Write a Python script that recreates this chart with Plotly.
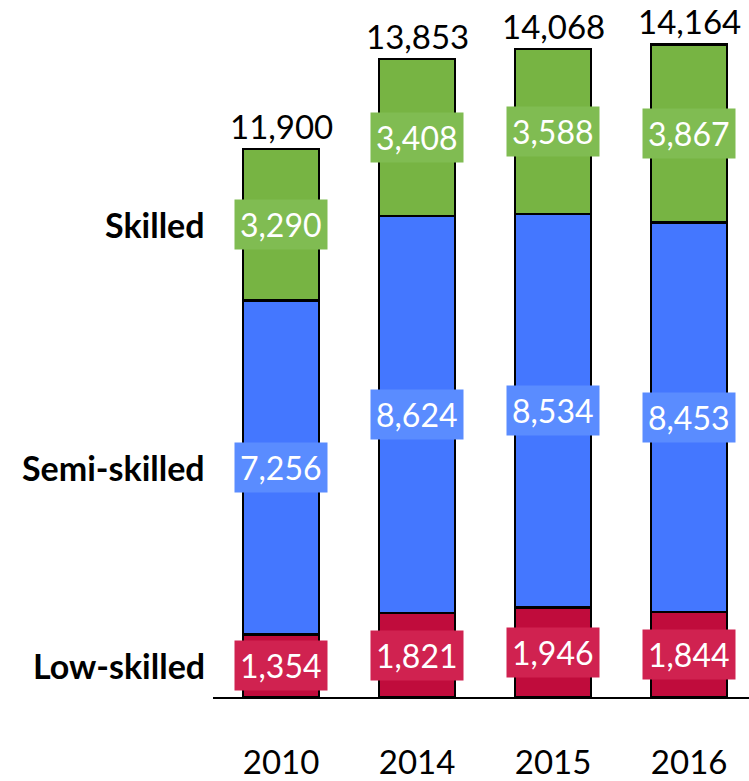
import plotly.graph_objects as go

years = ["2010", "2014", "2015", "2016"]
low_skilled = [1354, 1821, 1946, 1844]
semi_skilled = [7256, 8624, 8534, 8453]
skilled = [3290, 3408, 3588, 3867]
totals = [11900, 13853, 14068, 14164]
row_names = ["Low-skilled", "Semi-skilled", "Skilled"]

bar_colors = ["#C00C3C", "#4477FF", "#77B443"]
box_colors = ["#D02250", "#5A8CFF", "#80BC52"]

FONT = "Lato"
series = [low_skilled, semi_skilled, skilled]

fig = go.Figure()
for name, vals, col in zip(row_names, series, bar_colors):
    fig.add_trace(go.Bar(
        x=years, y=vals, name=name, marker=dict(color=col, line=dict(color="black", width=2.5)),
        width=0.56, hoverinfo="skip",
    ))

annotations = []
for i, yr in enumerate(years):
    base = 0
    for vals, bc in zip(series, box_colors):
        v = vals[i]
        annotations.append(dict(
            x=i, y=base + v / 2, xref="x", yref="y", text=f"{v:,}",
            showarrow=False, font=dict(family=FONT, size=32, color="white"),
            bgcolor=bc, borderpad=5, xanchor="center", yanchor="middle",
        ))
        base += v
    annotations.append(dict(
        x=i, y=totals[i], xref="x", yref="y", text=f"{totals[i]:,}",
        showarrow=False, font=dict(family=FONT, size=33, color="black"),
        xanchor="center", yanchor="bottom", yshift=1,
    ))

base = 0
for name, vals in zip(row_names, series):
    annotations.append(dict(
        x=0, y=base + vals[0] / 2, xref="paper", yref="y", text=f"<b>{name}</b>",
        showarrow=False, font=dict(family=FONT, size=34, color="black"),
        xanchor="right", yanchor="middle", xshift=-6,
    ))
    base += vals[0]

fig.update_layout(
    barmode="stack", width=749, height=781, showlegend=False,
    margin=dict(l=213, r=0, t=0, b=77),
    paper_bgcolor="white", plot_bgcolor="white",
    annotations=annotations,
    font=dict(family=FONT),
)
fig.update_xaxes(
    type="category",
    range=[-0.5, 3.44], showline=True, linecolor="black", linewidth=2,
    showgrid=False, ticks="", tickfont=dict(family=FONT, size=33, color="black"),
    ticklabelstandoff=35,
)
fig.update_yaxes(range=[0, 15130], visible=False, showgrid=False)

fig.write_html("out.html")
